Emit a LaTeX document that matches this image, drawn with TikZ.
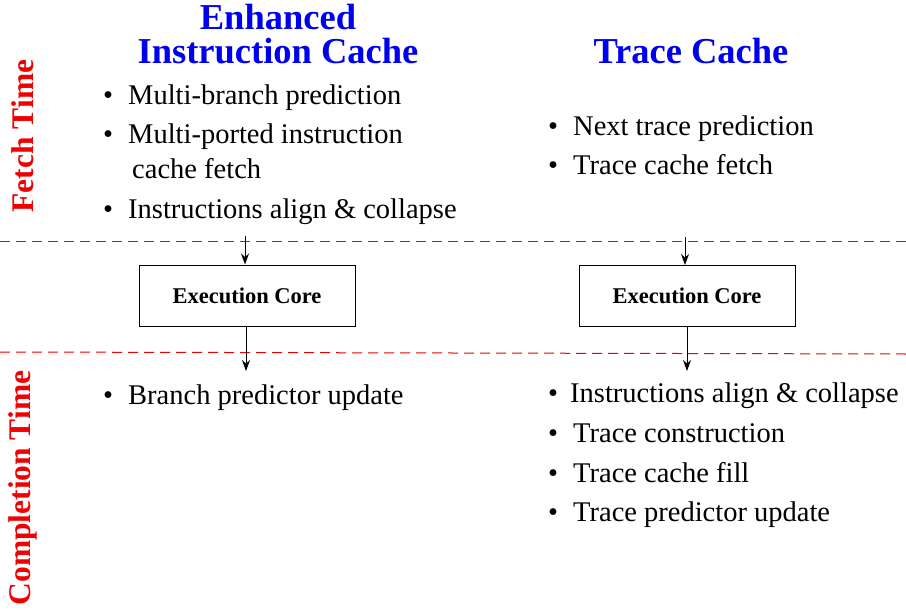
\documentclass[tikz,border=0pt]{standalone}
\usepackage{fontspec}
\setmainfont{Liberation Serif}
\usetikzlibrary{arrows.meta}
\definecolor{ttlblue}{RGB}{0,0,240}
\definecolor{lblred}{RGB}{240,0,0}
\tikzset{
  item/.style={anchor=west, inner sep=0pt, text height=0.7em, text depth=0.22em, font=\fontsize{28.5}{34}\selectfont},
  ttl/.style={inner sep=0pt, text=ttlblue, font=\fontsize{36.5}{35}\selectfont\bfseries, align=center},
  side/.style={inner sep=0pt, text=lblred, rotate=90, font=\fontsize{31.5}{34}\selectfont\bfseries},
  core/.style={draw, line width=1pt, minimum width=216pt, minimum height=61pt, inner sep=0pt, font=\fontsize{22.5}{24}\selectfont\bfseries},
  sep/.style={lblred, dash pattern=on 10pt off 6pt, line width=1pt},
  flow/.style={-{Stealth[length=11pt,width=8pt]}, line width=0.9pt}
}
\newcommand{\bul}{\makebox[25pt][l]{\textbullet}}
\begin{document}
\begin{tikzpicture}[x=1pt,y=-1pt]
\useasboundingbox (0,0) rectangle (906,610);
% titles
\node[ttl, anchor=base] (t1) at (278,64) {Enhanced\\Instruction Cache};
\node[ttl, anchor=base] (t2) at (691,64) {Trace Cache};
% side labels
\node[side] (ft) at (23,136) {Fetch Time};
\node[side] (ct) at (23,488) {Completion Time};
% separators
\draw[sep] (0,241) -- (906,241);
\draw[sep] (0,352) -- (906,354);
% left fetch items
\node[item] (l1) at (103,102) {\bul Multi-branch prediction};
\node[item] (l2) at (103,141) {\bul Multi-ported instruction};
\node[item] (l2b) at (132,176) {cache fetch};
\node[item] (l3) at (103,216) {\bul Instructions align \& collapse};
% right fetch items
\node[item] (r1) at (548,133) {\bul Next trace prediction};
\node[item] (r2) at (548,172) {\bul Trace cache fetch};
% cores
\node[core] (c1) at (247,295.5) {Execution Core};
\node[core] (c2) at (687,296) {Execution Core};
\coordinate (a1) at (245,236);
\coordinate (a2) at (685,237);
\coordinate (b1) at (246,371);
\coordinate (b2) at (687,371);
\draw[flow] (a1) -- (a1 |- c1.north);
\draw[flow] (a2) -- (a2 |- c2.north);
\draw[flow] (b1 |- c1.south) -- (b1);
\draw[flow] (b2 |- c2.south) -- (b2);
% completion items
\node[item] (l4) at (103,402) {\bul Branch predictor update};
\node[item] (r3) at (548,400) {\makebox[22pt][l]{\textbullet}Instructions align \& collapse};
\node[item] (r4) at (548,440) {\bul Trace construction};
\node[item] (r5) at (548,480) {\bul Trace cache fill};
\node[item] (r6) at (548,519) {\bul Trace predictor update};
\end{tikzpicture}
\end{document}
